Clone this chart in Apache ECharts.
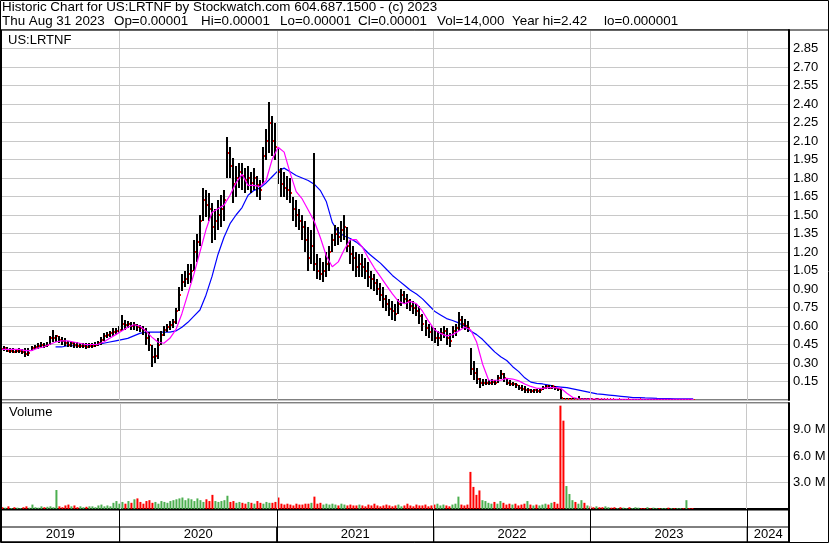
<!DOCTYPE html>
<html><head><meta charset="utf-8">
<script src="https://cdn.jsdelivr.net/npm/echarts@6/dist/echarts.min.js"></script>
<style>html,body{margin:0;padding:0;background:#fff}#c{width:830px;height:543px}</style>
</head><body><div id="c"></div>
<script>
// ---- DATA (weekly, first week starting 2019-04-01) ----
const firstWeek = [2019, 3, 1];
const hi = [
 .43,.44,.43,.42,.42,.41,.42,.41,.42,.42,
 .44,.45,.46,.47,.46,.47,.52,.57,.53,.52,
 .51,.50,.48,.48,.47,.47,.46,.46,.46,.46,
 .46,.47,.48,.51,.54,.55,.56,.58,.58,.60,
 .69,.65,.64,.63,.63,.62,.61,.60,.58,.55,
 .45,.42,.50,.56,.60,.62,.64,.66,.75,.92,
 1.02,1.05,1.10,1.10,1.30,1.35,1.50,1.72,1.70,1.68,
 1.60,1.55,1.62,1.66,1.70,2.13,2.05,1.96,1.90,1.92,
 1.92,1.88,1.90,1.85,1.88,1.82,1.78,2.05,2.20,2.42,
 2.30,2.25,2.05,1.88,1.85,1.82,1.80,1.65,1.62,1.55,
 1.50,1.45,1.40,1.38,2.00,1.18,1.15,1.12,1.20,1.25,
 1.35,1.42,1.40,1.45,1.50,1.40,1.30,1.25,1.20,1.18,
 1.18,1.15,1.12,1.05,1.02,.98,.95,.92,.85,.82,
 .80,.78,.82,.90,.88,.86,.82,.80,.78,.76,
 .70,.65,.62,.60,.58,.56,.58,.60,.58,.54,
 .60,.62,.71,.68,.66,.64,.42,.32,.26,.18,
 .17,.17,.16,.17,.16,.20,.24,.22,.17,.16,
 .15,.14,.12,.12,.11,.10,.09,.09,.09,.09,
 .11,.12,.12,.12,.11,.10,.10,.02,.02,.015,
 .02,.015,.03,.02,.015,.02,.015,.01,.015,.01,
 .01,.01,.012,.01,.008,.01,.008,.008,.01,.008,
 .008,.008,.01,.008,.006,.008,.006,.006,.008,.006,
 .006,.006,.005,.006,.005,.005,.006,.005,.008,.005,.004
];
const lo = [
 .39,.40,.39,.38,.38,.38,.38,.37,.35,.36,
 .40,.41,.41,.42,.42,.43,.45,.47,.47,.46,
 .45,.44,.43,.43,.42,.42,.42,.42,.41,.42,
 .42,.43,.44,.45,.48,.50,.51,.52,.53,.54,
 .56,.57,.58,.57,.57,.56,.55,.53,.45,.40,
 .27,.30,.33,.45,.52,.55,.57,.58,.62,.72,
 .88,.92,.94,.95,1.05,1.12,1.25,1.45,1.48,1.45,
 1.27,1.30,1.38,1.40,1.45,1.80,1.80,1.60,1.65,1.72,
 1.70,1.68,1.70,1.68,1.70,1.65,1.62,1.75,1.95,2.00,
 1.98,1.95,1.75,1.65,1.65,1.62,1.60,1.45,1.40,1.38,
 1.30,1.20,1.05,1.10,1.05,.98,.97,.96,1.00,1.05,
 1.20,1.25,1.26,1.28,1.30,1.20,1.10,1.05,1.00,1.00,
 1.00,.98,.92,.90,.88,.85,.80,.75,.72,.68,
 .65,.64,.70,.76,.78,.74,.72,.70,.68,.62,
 .56,.52,.50,.48,.46,.44,.48,.50,.45,.43,
 .50,.52,.56,.58,.57,.55,.20,.16,.13,.10,
 .11,.12,.12,.12,.12,.14,.17,.15,.12,.11,
 .11,.10,.08,.07,.06,.06,.06,.06,.06,.06,
 .08,.09,.09,.09,.08,.07,.01,.005,.005,.005,
 .005,.005,.005,.005,.005,.005,.005,.005,.005,.005,
 .002,.002,.002,.002,.002,.002,.002,.002,.002,.002,
 .001,.001,.001,.001,.001,.001,.001,.001,.001,.001,
 .001,.001,.001,.001,.001,.001,.001,.001,.001,.001,.001
];
const cl = [
 .41,.42,.40,.40,.39,.40,.40,.39,.37,.38,
 .42,.43,.44,.45,.44,.45,.50,.50,.52,.49,
 .48,.46,.45,.46,.45,.44,.44,.44,.43,.44,
 .44,.45,.46,.49,.52,.53,.54,.55,.56,.57,
 .62,.61,.62,.60,.61,.59,.58,.57,.50,.45,
 .35,.36,.45,.53,.57,.59,.61,.63,.72,.85,
 .96,.98,1.02,1.05,1.20,1.28,1.45,1.62,1.58,1.55,
 1.40,1.45,1.50,1.55,1.62,2.00,1.90,1.75,1.80,1.85,
 1.82,1.78,1.80,1.76,1.80,1.74,1.70,1.98,2.10,2.25,
 2.10,2.05,1.85,1.75,1.72,1.70,1.68,1.55,1.50,1.45,
 1.40,1.30,1.15,1.25,1.10,1.05,1.02,1.05,1.10,1.20,
 1.30,1.35,1.32,1.38,1.40,1.25,1.18,1.15,1.08,1.10,
 1.08,1.05,1.00,.98,.95,.90,.85,.82,.78,.74,
 .72,.70,.78,.85,.82,.80,.76,.75,.72,.68,
 .62,.58,.55,.52,.50,.50,.54,.56,.50,.48,
 .56,.58,.65,.62,.60,.58,.25,.22,.17,.14,
 .14,.14,.14,.15,.14,.18,.21,.18,.14,.13,
 .13,.12,.10,.09,.08,.08,.07,.08,.07,.08,
 .10,.11,.10,.11,.10,.09,.015,.01,.01,.01,
 .01,.008,.01,.01,.008,.01,.008,.006,.008,.006,
 .005,.005,.006,.005,.004,.005,.004,.004,.005,.004,
 .004,.004,.005,.004,.003,.004,.003,.003,.004,.003,
 .003,.003,.002,.003,.002,.002,.003,.002,.004,.002,.00001
];
// volume in millions
const volume = [
 0.2,0.15,0.3,0.1,0.2,0.15,0.1,0.2,0.3,0.15,
 0.5,0.2,0.15,0.3,0.2,0.25,0.3,0.2,2.15,0.3,
 0.2,0.4,0.5,0.3,0.4,0.2,0.3,0.2,0.25,0.3,
 0.3,0.2,0.4,0.5,0.3,0.4,0.3,0.7,0.9,0.6,
 0.8,0.6,0.9,0.7,1.1,1.2,0.8,0.6,0.9,1.0,
 0.7,0.8,0.6,0.9,0.8,0.7,0.9,1.0,1.1,1.2,
 1.3,1.0,1.2,1.1,0.9,1.2,1.0,0.8,1.1,0.9,
 1.6,0.9,0.8,0.9,1.0,1.5,0.8,0.9,0.7,0.8,
 0.7,0.6,0.8,0.7,0.6,0.9,0.7,0.6,0.8,0.7,
 0.7,0.8,1.3,0.6,0.5,0.6,0.5,0.4,0.6,0.5,
 0.5,0.6,0.6,0.7,1.4,0.6,0.7,0.5,0.6,0.5,
 0.6,0.5,0.4,0.6,0.5,0.4,0.5,0.4,0.4,0.5,
 0.4,0.3,0.5,0.4,0.6,0.4,0.3,0.4,0.5,0.4,
 0.3,0.4,0.5,0.3,0.4,0.6,0.4,0.3,0.5,0.4,
 0.4,0.5,0.3,0.4,0.5,0.6,0.4,0.5,0.4,0.3,
 0.5,0.6,1.4,0.5,0.4,0.5,4.2,2.5,1.6,2.1,
 1.0,0.9,0.7,0.6,0.8,0.6,0.9,0.7,0.5,0.6,
 0.5,0.6,0.4,0.5,0.6,0.9,0.5,0.4,0.5,0.4,
 0.5,0.6,0.5,0.7,0.8,0.6,11.7,10.0,2.6,1.7,
 1.0,0.8,0.6,1.0,0.7,0.4,0.3,0.2,0.3,0.2,
 0.2,0.3,0.2,0.15,0.2,0.1,0.2,0.15,0.1,0.2,
 0.1,0.2,0.15,0.1,0.1,0.2,0.1,0.15,0.1,0.1,
 0.1,0.1,0.15,0.1,0.1,0.1,0.1,0.1,1.0,0.1,0.1
];
// moving averages, one value every 2 weeks
const maFast = [
 0.41,0.41,0.41,0.41,0.40,0.40,0.42,0.43,0.45,0.47,
 0.48,0.48,0.47,0.46,0.45,0.45,0.45,0.47,0.50,0.53,
 0.56,0.59,0.61,0.60,0.56,0.51,0.47,0.46,0.50,0.57,
 0.70,0.86,1.02,1.20,1.38,1.52,1.55,1.58,1.66,1.76,
 1.83,1.74,1.74,1.73,1.78,1.95,2.05,2.01,1.84,1.69,
 1.63,1.54,1.45,1.32,1.17,1.08,1.12,1.22,1.30,1.30,
 1.24,1.15,1.07,1.00,0.93,0.86,0.80,0.78,0.80,0.78,
 0.72,0.64,0.57,0.54,0.52,0.53,0.56,0.59,0.57,0.47,
 0.29,0.16,0.16,0.16,0.175,0.17,0.155,0.13,0.11,0.095,
 0.095,0.10,0.10,0.095,0.055,0.02,0.01,0.008,0.008,0.008,
 0.008,0.006,0.006,0.006,0.006,0.006,0.006,0.006,0.006,0.006,
 0.006,0.006,0.006,0.006,0.006,0.006
];
const maSlow = [
 null,null,null,null,null,null,null,null,null,0.43,
 0.43,0.44,0.44,0.44,0.445,0.45,0.45,0.46,0.47,0.48,
 0.49,0.50,0.52,0.54,0.55,0.55,0.55,0.55,0.55,0.56,
 0.59,0.63,0.68,0.73,0.85,1.00,1.18,1.32,1.43,1.50,
 1.56,1.66,1.70,1.72,1.76,1.81,1.86,1.88,1.85,1.82,
 1.80,1.78,1.75,1.70,1.61,1.44,1.36,1.33,1.31,1.28,
 1.24,1.19,1.15,1.11,1.06,1.01,0.97,0.93,0.89,0.86,
 0.82,0.77,0.72,0.69,0.66,0.645,0.625,0.60,0.56,0.53,
 0.49,0.44,0.39,0.35,0.32,0.27,0.23,0.18,0.145,0.135,
 0.13,0.12,0.11,0.105,0.10,0.09,0.08,0.07,0.06,0.05,
 0.045,0.04,0.035,0.03,0.025,0.02,0.02,0.017,0.015,0.013,
 0.012,0.011,0.01,0.01,0.01,0.01
];
const yearLabels = [2019, 2020, 2021, 2022, 2023, 2024];
const axisStart = [2019, 2, 31];
const axisEnd = [2024, 3, 7];
const headerLine1 = 'Historic Chart for US:LRTNF by Stockwatch.com 604.687.1500 - (c) 2023';
const headerFields = [['Thu Aug 31 2023', 2], ['Op=0.00001', 114], ['Hi=0.00001', 201], ['Lo=0.00001', 280], ['Cl=0.00001', 358], ['Vol=14,000', 437], ['Year hi=2.42', 512], ['lo=0.000001', 604]];

// ---- BUILD ----
const DAY = 86400000;
const t0 = Date.UTC(firstWeek[0], firstWeek[1], firstWeek[2]);
const wk = i => t0 + i * 7 * DAY;
const xMin = Date.UTC(axisStart[0], axisStart[1], axisStart[2]);
const xMax = Date.UTC(axisEnd[0], axisEnd[1], axisEnd[2]);
const FONT = '"Liberation Sans", Arial, sans-serif';
const HFONT = '13.4px ' + FONT;
const GREEN = '#4caf50', RED = '#ff0000', GRID = '#c8c8c8';

const priceData = hi.map((h, i) => [wk(i), h, lo[i], cl[i]]);
const volData = volume.map((v, i) => ({
  value: [wk(i), v],
  itemStyle: { color: (i > 0 && cl[i] >= cl[i - 1]) ? GREEN : RED }
}));
const fastData = maFast.map((v, k) => [wk(2 * k), v]);
const slowData = maSlow.map((v, k) => [wk(2 * k), v]).filter(d => d[1] !== null);
const yearLines = yearLabels.slice(1).map(y => ({ xAxis: Date.UTC(y, 0, 1) }));
const yearAreas = yearLabels.map(y => [
  { name: String(y), xAxis: Math.max(xMin, Date.UTC(y, 0, 1)), yAxis: 0 },
  { xAxis: Math.min(xMax, Date.UTC(y + 1, 0, 1)), yAxis: 15 }
]);

const gridLineMark = color => ({
  silent: true, symbol: ['none', 'none'], animation: false,
  label: { show: false }, lineStyle: { color: color, type: 'solid', width: 1 },
  data: yearLines
});

const chart = echarts.init(document.getElementById('c'), null, { renderer: 'canvas' });
const baseX = (gi) => ({
  type: 'time', gridIndex: gi, min: xMin, max: xMax,
  axisLabel: { show: false }, axisTick: { show: false }, splitLine: { show: false },
  axisLine: { show: false }
});

chart.setOption({
  animation: false,
  backgroundColor: '#fff',
  textStyle: { fontFamily: FONT },
  grid: [
    { left: 1, top: 30, width: 788, height: 370, show: true, borderColor: '#000', borderWidth: 1 },
    { left: 1, top: 403, width: 788, height: 106, show: true, borderColor: '#000', borderWidth: 1 },
    { left: 1, top: 510, width: 788, height: 32, show: true, borderColor: '#000', borderWidth: 1 }
  ],
  xAxis: [
    baseX(0),
    Object.assign(baseX(1), { axisLine: { show: true, onZero: false, lineStyle: { color: '#000', width: 2 } } }),
    baseX(2)
  ],
  yAxis: [
    { type: 'value', gridIndex: 0, position: 'right', min: 0, max: 3, interval: 0.15,
      axisLine: { show: true, lineStyle: { color: '#000', width: 2 } }, axisTick: { show: false },
      axisLabel: { showMinLabel: false, showMaxLabel: false, margin: 4, color: '#000', fontSize: 13, fontFamily: FONT,
        formatter: v => v.toFixed(2) },
      splitLine: { show: true, lineStyle: { color: GRID, width: 1 } } },
    { type: 'value', gridIndex: 1, position: 'right', min: 0, max: 12, interval: 3,
      axisLine: { show: true, lineStyle: { color: '#000', width: 2 } }, axisTick: { show: false },
      axisLabel: { showMinLabel: false, showMaxLabel: false, margin: 4, color: '#000', fontSize: 13, fontFamily: FONT,
        formatter: v => v.toFixed(1) + ' M' },
      splitLine: { show: true, lineStyle: { color: GRID, width: 1 } } },
    { type: 'value', gridIndex: 2, position: 'right', min: 0, max: 32,
      axisLine: { show: true, lineStyle: { color: '#000', width: 2 } }, axisTick: { show: false },
      axisLabel: { show: false }, splitLine: { show: false } }
  ],
  series: [
    { type: 'line', xAxisIndex: 0, yAxisIndex: 0, data: slowData, showSymbol: false, symbol: 'none',
      lineStyle: { color: '#0000ff', width: 1.2 }, z: 3, markLine: gridLineMark(GRID) },
    { type: 'custom', xAxisIndex: 0, yAxisIndex: 0, data: priceData, clip: true, z: 4,
      encode: { x: 0, y: [1, 2, 3] },
      renderItem: (params, api) => {
        const t = api.value(0);
        const hp = api.coord([t, api.value(1)]);
        const lp = api.coord([t, api.value(2)]);
        const cp = api.coord([t, api.value(3)]);
        const x = Math.round(hp[0]);
        return { type: 'group', children: [
          { type: 'rect', shape: { x: x - 1, y: Math.round(hp[1]), width: 2, height: Math.max(1, Math.round(lp[1]) - Math.round(hp[1])) },
            style: { fill: '#000' } },
          { type: 'rect', shape: { x: x + 1, y: Math.round(cp[1]) - 1, width: 1, height: 2 }, style: { fill: RED } }
        ] };
      } },
    { type: 'line', xAxisIndex: 0, yAxisIndex: 0, data: fastData, showSymbol: false, symbol: 'none',
      lineStyle: { color: '#ff00ff', width: 1.2 }, z: 5 },
    { type: 'bar', xAxisIndex: 1, yAxisIndex: 1, data: volData, barWidth: 2, z: 3,
      markLine: gridLineMark(GRID) },
    { type: 'scatter', xAxisIndex: 2, yAxisIndex: 2, data: [[xMin, 0]], symbolSize: 0, silent: true,
      markLine: gridLineMark('#000'),
      markArea: { silent: true, itemStyle: { color: 'rgba(0,0,0,0)', borderColor: '#000', borderWidth: 1 },
        label: { show: true, position: 'inside', color: '#000', fontSize: 13, fontFamily: FONT, formatter: '{b}' },
        data: yearAreas } }
  ],
  graphic: [
    { type: 'rect', shape: { x: 0.5, y: 0.5, width: 828, height: 542 }, style: { fill: 'none', stroke: '#000', lineWidth: 1 }, silent: true, z: 100 },
    { type: 'line', shape: { x1: 0, y1: 30, x2: 829, y2: 30 }, style: { stroke: '#000', lineWidth: 1 }, silent: true, z: 100 },
    { type: 'line', shape: { x1: 1, y1: 30, x2: 1, y2: 542 }, style: { stroke: '#000', lineWidth: 2 }, silent: true, z: 100 },
    { type: 'text', left: 2, top: 1, style: { text: headerLine1, font: HFONT, fill: '#000' }, silent: true },
    ...headerFields.map(f => ({ type: 'text', left: f[1], top: 15, style: { text: f[0], font: HFONT, fill: '#000' }, silent: true })),
    { type: 'text', left: 8, top: 34, style: { text: 'US:LRTNF', font: '13px ' + FONT, fill: '#000' }, silent: true },
    { type: 'text', left: 9, top: 406, style: { text: 'Volume', font: '13px ' + FONT, fill: '#000' }, silent: true }
  ]
});
</script></body></html>
